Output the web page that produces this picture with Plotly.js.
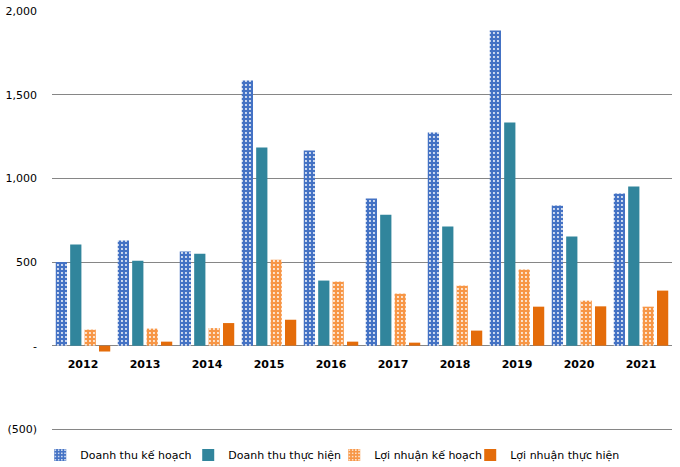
<!DOCTYPE html>
<html>
<head>
<meta charset="utf-8">
<script src="https://cdn.plot.ly/plotly-3.0.1.min.js"></script>
<style>html,body{margin:0;padding:0;background:#fff;}#chart{width:680px;height:467px;}</style>
</head>
<body>
<div id="chart"></div>
<script>
const years = ['2012','2013','2014','2015','2016','2017','2018','2019','2020','2021'];
const doanhThuKeHoach = [500, 628, 562, 1585, 1166, 879, 1274, 1884, 837, 909];
const doanhThuThucHien = [604, 508, 550, 1184, 389, 783, 712, 1334, 652, 951];
const loiNhuanKeHoach = [96, 102, 105, 514, 383, 311, 359, 455, 269, 233];
const loiNhuanThucHien = [-35, 24, 135, 155, 24, 18, 90, 233, 235, 329];
const seriesNames = ['Doanh thu kế hoạch', 'Doanh thu thực hiện', 'Lợi nhuận kế hoạch', 'Lợi nhuận thực hiện'];
const yTickVals = [-500, 0, 500, 1000, 1500, 2000];
const yTickText = ['(500)', '-', '500', '1,000', '1,500', '2,000'];

const FONT = 'DejaVu Sans, sans-serif';
const yMin = -510, yMax = 2000;
const traces = [
  {x: years, y: doanhThuKeHoach, name: seriesNames[0], type: 'bar', legendwidth: 103,
   marker: {color: '#4472C4', pattern: {shape: '.', fgcolor: '#ffffff', bgcolor: '#4472C4', size: 4, solidity: 0.18}}},
  {x: years, y: doanhThuThucHien, name: seriesNames[1], type: 'bar', legendwidth: 101,
   marker: {color: '#31859C'}},
  {x: years, y: loiNhuanKeHoach, name: seriesNames[2], type: 'bar', legendwidth: 91,
   marker: {color: '#F79646', pattern: {shape: '.', fgcolor: '#ffffff', bgcolor: '#F79646', size: 4, solidity: 0.18}}},
  {x: years, y: loiNhuanThucHien, name: seriesNames[3], type: 'bar', legendwidth: 118,
   marker: {color: '#E46C0A'}}
];
traces.forEach(t => { t.hoverinfo = 'skip'; });

const layout = {
  width: 680, height: 467,
  margin: {l: 52, r: 8, t: 11, b: 36, autoexpand: false},
  paper_bgcolor: '#fff', plot_bgcolor: '#fff',
  barmode: 'group', bargap: 0.07, bargroupgap: 0.22,
  font: {family: FONT, size: 11, color: '#000'},
  showlegend: true,
  legend: {orientation: 'h', x: -0.019, xanchor: 'left', y: -0.057, yanchor: 'middle',
           font: {family: FONT, size: 11, color: '#000'}, itemwidth: 30, tracegroupgap: 0,
           traceorder: 'normal'},
  xaxis: {type: 'category', anchor: 'free', position: -yMin / (yMax - yMin), showline: false, showgrid: false,
          zeroline: false, ticks: '', ticklabelstandoff: 10,
          tickfont: {family: FONT, size: 11, color: '#000', weight: 'bold'}},
  yaxis: {range: [yMin, yMax], tickvals: yTickVals, ticktext: yTickText, showgrid: true,
          gridcolor: '#868686', gridwidth: 1, zeroline: true, zerolinecolor: '#868686', zerolinewidth: 1,
          showline: false, ticks: '', ticklabelstandoff: 14,
          tickfont: {family: FONT, size: 11, color: '#000'}}
};

Plotly.newPlot('chart', traces, layout, {displayModeBar: false, staticPlot: true});
</script>
</body>
</html>
